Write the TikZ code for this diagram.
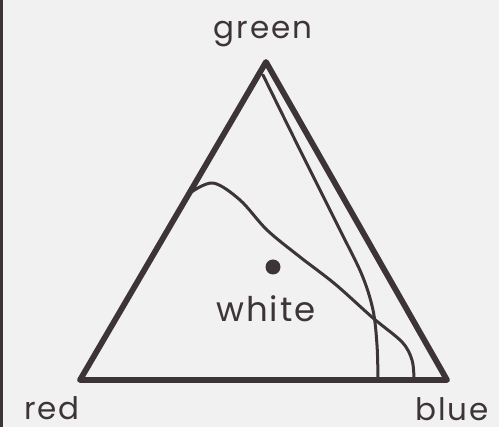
\documentclass[tikz,border=0pt]{standalone}
\usepackage{fontspec}
\setmainfont{Poppins}[LetterSpace=6]
\definecolor{ink}{RGB}{60,52,55}
\definecolor{paper}{RGB}{242,241,242}
\begin{document}
\begin{tikzpicture}[x=1pt,y=-1pt,
  outer/.style={draw=ink,line width=5.8pt,line join=round,line cap=round},
  thin/.style={draw=ink,line width=3pt,line cap=round,line join=round},
  lbl/.style={inner sep=0pt,anchor=base,text=ink,font=\fontsize{31}{36}\selectfont}]
\fill[paper] (0,0) rectangle (499,427);
\useasboundingbox (0,0) rectangle (499,427);
\fill[ink] (0,0) rectangle (3,427);
\coordinate (R) at (80,380);
\coordinate (G) at (266,62);
\coordinate (B) at (447,380);
\draw[thin] plot[smooth,tension=0.55] coordinates {(263,75) (300,150) (340,230) (362,275) (373,310) (377,345) (378,379)};
\draw[thin] plot[smooth,tension=0.55] coordinates {(190,193) (213,183) (240,200) (267,230) (300,257) (335,284) (373,318) (402,342) (412,360) (414,379)};
\draw[outer] (R) -- (G) -- (B) -- cycle;
\fill[ink] (273,267) circle (7.5);
\node[lbl] (green) at (263,39) {green};
\node[lbl] (red) at (52,420) {red};
\node[lbl] (blue) at (452,421) {blue};
\node[lbl,font=\fontsize{34}{40}\selectfont] (white) at (266,322) {white};
\end{tikzpicture}
\end{document}
